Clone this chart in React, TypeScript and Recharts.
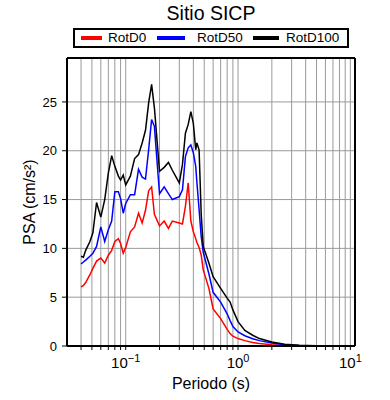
import { LineChart, Line, XAxis, YAxis, CartesianGrid } from 'recharts'

const FONT = '"Liberation Sans", Arial, Helvetica, sans-serif'

const periods = [
  0.04, 0.042, 0.044, 0.048, 0.051, 0.055, 0.06, 0.065, 0.07, 0.075,
  0.08, 0.086, 0.09, 0.095, 0.1, 0.11, 0.12, 0.13, 0.14, 0.15,
  0.16, 0.17, 0.18, 0.2, 0.22, 0.24, 0.26, 0.3, 0.32, 0.34,
  0.36, 0.38, 0.4, 0.42, 0.43, 0.45, 0.47, 0.49, 0.55, 0.6,
  0.7, 0.8, 0.85, 0.9, 1.0, 1.15, 1.35, 1.55, 2.0, 2.6,
  3.5, 5.0, 7.0, 10.0,
]

const rotD0 = [
  6.06, 6.2, 6.5, 7.3, 7.95, 8.7, 9.0, 8.5, 9.3, 9.8,
  10.7, 11.0, 10.5, 9.5, 10.1, 11.7, 12.2, 13.6, 12.6, 13.9,
  15.9, 16.3, 13.5, 12.3, 12.8, 12.05, 12.8, 12.6, 12.5, 14.3,
  16.7, 12.8, 11.7, 11.0, 10.6, 10.1, 9.3, 7.8, 5.9, 3.8,
  2.8, 1.7, 1.27, 1.0, 0.76, 0.55, 0.35, 0.25, 0.13, 0.06,
  0.03, 0.01, 0.0, 0.0,
]

const rotD50 = [
  8.4, 8.6, 8.8, 9.2, 9.5, 10.2, 12.2, 10.7, 11.9, 12.8,
  15.8, 15.8, 15.1, 13.6, 14.6, 15.5, 15.5, 18.1, 17.3, 17.1,
  20.1, 23.2, 22.5, 15.6, 16.3, 15.6, 15.0, 15.3, 16.0, 19.4,
  20.3, 20.6, 19.8, 18.4, 16.8, 14.0, 11.2, 9.6, 7.4, 5.5,
  4.5, 3.3, 2.6, 2.0, 1.44, 1.05, 0.75, 0.55, 0.3, 0.12,
  0.05, 0.02, 0.01, 0.0,
]

const rotD100 = [
  9.2, 9.1, 9.8, 10.7, 11.6, 14.7, 13.2, 15.0, 17.7, 19.5,
  18.4, 17.4, 17.0, 17.5, 16.5, 17.4, 19.2, 19.6, 20.8, 22.1,
  24.9, 26.8, 24.4, 17.9, 18.3, 18.8, 18.0, 16.7, 18.6, 21.8,
  22.7, 24.0, 22.8, 20.1, 20.8, 20.1, 13.5, 10.2, 8.5, 7.1,
  5.9, 4.9, 4.5, 3.7, 2.5, 1.6, 1.1, 0.76, 0.4, 0.18,
  0.08, 0.03, 0.01, 0.0,
]

// log grid: 0.04..0.09, 0.1..0.9, 1..9, 10
const xTicks = [
  0.04, 0.05, 0.06, 0.07, 0.08, 0.09,
  0.1, 0.2, 0.3, 0.4, 0.5, 0.6, 0.7, 0.8, 0.9,
  1, 2, 3, 4, 5, 6, 7, 8, 9, 10,
]
const yTicks = [0, 5, 10, 15, 20, 25]

const series = [
  { key: 'd0', name: 'RotD0', color: '#ff0000' },
  { key: 'd50', name: 'RotD50', color: '#0000ff' },
  { key: 'd100', name: 'RotD100', color: '#000000' },
]

const data = periods.map((p, i) => ({ p, d0: rotD0[i], d50: rotD50[i], d100: rotD100[i] }))

function PeriodTick({ x, y, payload }: any) {
  const lg = Math.log10(payload.value)
  const e = Math.round(lg)
  if (Math.abs(lg - e) > 1e-6) return <g />
  return (
    <text x={x} y={y + 16} textAnchor="middle" fontSize={15} fill="#000" fontFamily={FONT}>
      10<tspan dy={-6} fontSize={11}>{e < 0 ? '\u2212' + Math.abs(e) : e}</tspan>
    </text>
  )
}

function XTitle({ viewBox }: any) {
  const { x, width } = viewBox
  return (
    <text x={x + width / 2} y={389} textAnchor="middle" fontSize={16} fill="#000" fontFamily={FONT}>
      Periodo (s)
    </text>
  )
}

function YTitle({ viewBox }: any) {
  const { y, height } = viewBox
  const cx = 34.5
  const cy = y + height / 2
  return (
    <text x={cx} y={cy} transform={`rotate(-90, ${cx}, ${cy})`} textAnchor="middle" fontSize={16} fill="#000" fontFamily={FONT}>
      PSA (cm/s²)
    </text>
  )
}

export default function App() {
  return (
    <div style={{ position: 'absolute', left: 0, top: 0, width: 390, height: 400, background: '#fff', fontFamily: FONT }}>
      <div style={{ position: 'absolute', left: 0, width: 422, top: 1, textAlign: 'center', fontSize: 19.5, lineHeight: '24px', color: '#000' }}>
        Sitio SICP
      </div>
      <div style={{ position: 'absolute', left: 73, top: 28, width: 276, height: 20, border: '2px solid #000', boxSizing: 'border-box' }}>
        {series.map((s, i) => {
          const lineX = [6, 82, 178][i]
          const lineW = [21, 28, 26][i]
          const textX = [33, 122, 211][i]
          return (
            <div key={s.key}>
              <div style={{ position: 'absolute', left: lineX, top: 6, width: lineW, height: 4, background: s.color }} />
              <div style={{ position: 'absolute', left: textX, top: 0, fontSize: 13.5, lineHeight: '16px', color: '#000' }}>{s.name}</div>
            </div>
          )
        })}
      </div>
      <LineChart width={390} height={400} data={data} margin={{ top: 56, right: 25, bottom: 0, left: 0 }}>
        <CartesianGrid stroke="#9a9a9a" strokeWidth={1} />
        <XAxis
          dataKey="p"
          type="number"
          scale="log"
          domain={[0.03, 11]}
          allowDataOverflow
          ticks={xTicks}
          interval={0}
          height={54}
          tickSize={4}
          tickMargin={2}
          tick={<PeriodTick />}
          axisLine={{ stroke: '#000', strokeWidth: 2 }}
          tickLine={{ stroke: '#000' }}
          label={<XTitle />}
        />
        <XAxis
          xAxisId="top"
          orientation="top"
          dataKey="p"
          type="number"
          scale="log"
          domain={[0.03, 11]}
          allowDataOverflow
          ticks={xTicks}
          interval={0}
          height={2}
          tickSize={4}
          tick={false}
          axisLine={{ stroke: '#000', strokeWidth: 2 }}
          tickLine={{ stroke: '#000' }}
        />
        <YAxis
          type="number"
          domain={[0, 29.5]}
          allowDataOverflow
          ticks={yTicks}
          interval={0}
          width={67}
          tickSize={5}
          tickMargin={5}
          tick={{ fill: '#000', fontSize: 13, fontFamily: FONT }}
          axisLine={{ stroke: '#000', strokeWidth: 2 }}
          tickLine={{ stroke: '#000' }}
          label={<YTitle />}
        />
        <YAxis
          yAxisId="right"
          orientation="right"
          type="number"
          domain={[0, 29.5]}
          allowDataOverflow
          ticks={yTicks}
          interval={0}
          width={10}
          tickSize={5}
          tick={false}
          axisLine={{ stroke: '#000', strokeWidth: 2 }}
          tickLine={{ stroke: '#000' }}
        />
        {series.map(s => (
          <Line
            key={s.key}
            dataKey={s.key}
            name={s.name}
            type="linear"
            stroke={s.color}
            strokeWidth={1.5}
            dot={false}
            isAnimationActive={false}
          />
        ))}
      </LineChart>
    </div>
  )
}
